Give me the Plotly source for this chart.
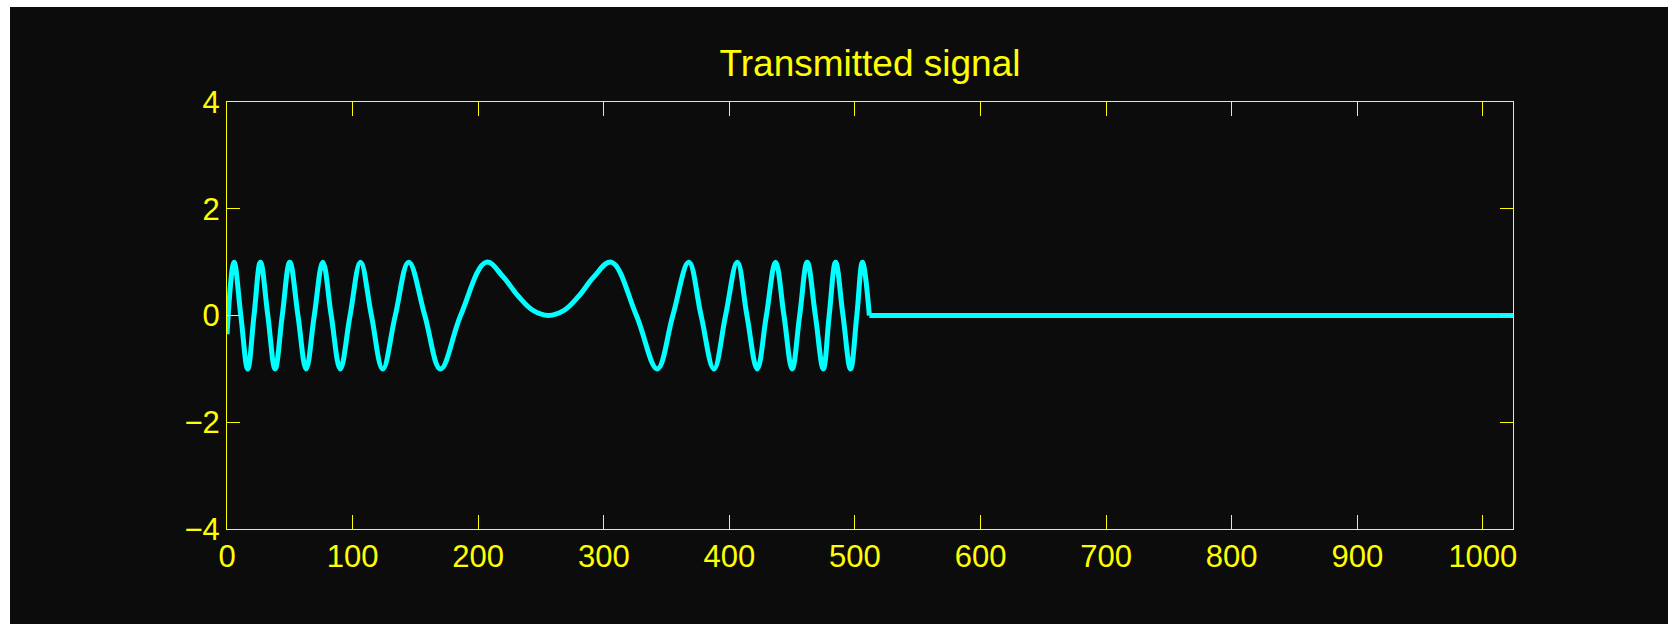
import plotly.graph_objects as go

# Key points of the transmitted signal (sample index, amplitude)
chirp_idx = [0, 5.6, 11, 16.5, 21.5, 26.6, 32.5, 38.3, 44, 50, 56.5, 63, 69.5, 76.3,
             83, 90.2, 98, 106.3, 115, 124, 134, 144.7, 157.5, 170, 186,
             206.6, 220, 232, 244, 256, 268, 280, 292,
             305.9, 326, 342.6, 355, 367.7, 377.5, 387.7, 397, 406.3, 414, 422.2,
             429.5, 436.8, 443.5, 450, 456, 462, 468.5, 474.8, 479.5, 484.6, 490.5,
             496.5, 501.5, 506, 511.5]
chirp_amp = [-0.35, 1, 0, -1, 0, 1, 0, -1, 0, 1, 0, -1, 0, 1,
             0, -1, 0, 1, 0, -1, 0, 1, 0, -1, 0,
             1, 0.72, 0.36, 0.09, 0.0, 0.09, 0.36, 0.72,
             1, 0, -1, 0, 1, 0, -1, 0, 1, 0, -1,
             0, 1, 0, -1, 0, 1, 0, -1, 0, 1, 0,
             -1, 0, 1, 0]
# zero-padded tail
tail_idx = [511.5, 1024]
tail_amp = [0, 0]

x_ticks = [0, 100, 200, 300, 400, 500, 600, 700, 800, 900, 1000]
y_ticks = [-4, -2, 0, 2, 4]
title_text = "Transmitted signal"

W, H = 1668, 624
ML, MR, MT, MB = 227, 155, 102, 95
pw = W - ML - MR
ph = H - MT - MB

BG = "#0c0c0c"
FG = "#ffff00"
CY = "#00ffff"
FONT = "Liberation Sans, Arial, Helvetica, sans-serif"

fig = go.Figure()
fig.add_trace(go.Scatter(
    x=chirp_idx, y=chirp_amp, mode="lines",
    line=dict(color=CY, width=5, shape="spline", smoothing=1.1),
    hoverinfo="skip", showlegend=False,
))
fig.add_trace(go.Scatter(
    x=tail_idx, y=tail_amp, mode="lines",
    line=dict(color=CY, width=5),
    hoverinfo="skip", showlegend=False,
))

# dark figure area (with the thin white strip at top/left of the original)
fig.add_shape(type="rect", xref="paper", yref="paper",
              x0=(10 - ML) / pw, x1=(W - ML) / pw,
              y0=(H - MB - H) / ph, y1=(H - MB - 7) / ph,
              fillcolor=BG, line=dict(width=0), layer="below")

axis_common = dict(showline=True, linecolor=FG, linewidth=1, mirror="ticks",
                   ticks="inside", tickcolor=FG, tickwidth=1,
                   showgrid=False, zeroline=False,
                   tickfont=dict(family=FONT, size=31, color=FG))

fig.update_layout(
    width=W, height=H, autosize=False,
    margin=dict(l=ML, r=MR, t=MT, b=MB, pad=0),
    paper_bgcolor="white", plot_bgcolor=BG,
    title=dict(text=title_text, x=(ML + pw / 2) / W, xanchor="center",
               y=1 - 63 / H, yanchor="middle", yref="container",
               font=dict(family=FONT, size=37, color=FG)),
    xaxis=dict(range=[0, 1024], tickvals=x_ticks, ticklen=14, **axis_common),
    yaxis=dict(range=[-4, 4], tickvals=y_ticks, ticklen=13, **axis_common),
)

fig.write_html("out.html")
